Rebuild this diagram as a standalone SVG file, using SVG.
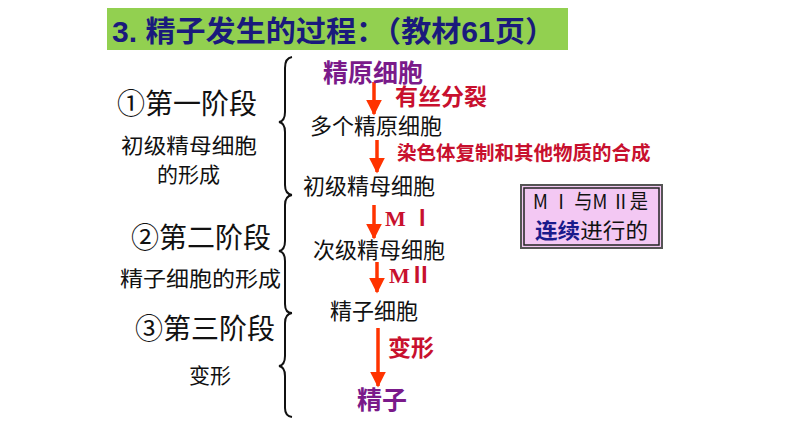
<svg xmlns="http://www.w3.org/2000/svg" width="794" height="447" viewBox="0 0 794 447">
<style>
.lbl{font-family:"Noto Sans CJK SC",sans-serif;fill:#111;}
.big{font-size:28px;}
.mid{font-size:21px;}
.cell{font-family:"Noto Sans CJK SC",sans-serif;font-size:22px;fill:#111;}
.pur{font-family:"Noto Sans CJK SC",sans-serif;font-weight:bold;fill:#7a1a8a;font-size:25px;}
.red{font-family:"Noto Sans CJK SC",sans-serif;font-weight:bold;fill:#c8102e;}
.mr{font-family:"Liberation Serif","Noto Sans CJK SC",serif;font-weight:bold;fill:#c8102e;font-size:22px;}
.arr{stroke:#ff3300;stroke-width:3.5;fill:none;}
.brace{stroke:#111;stroke-width:2;fill:none;}
</style>
<defs>
<marker id="ah" viewBox="0 0 10 10" refX="9" refY="5" markerWidth="4.5" markerHeight="4.5" orient="auto" markerUnits="strokeWidth">
<path d="M0,0 L10,5 L0,10 z" fill="#ff3300"/>
</marker>
</defs>
<rect width="794" height="447" fill="#fff"/>
<g id="title">
<rect x="107" y="8" width="461" height="42" fill="#92d050"/>
<text x="112" y="42" font-family="Liberation Sans,Noto Sans CJK SC,sans-serif" font-weight="bold" font-size="29" fill="#1a1a7c" textLength="443" lengthAdjust="spacingAndGlyphs">3. 精子发生的过程：（教材61页）</text>
</g>
<g id="braces">
<path class="brace" d="M292,57 Q285,58 285,68 L285,112 Q285,121 279,122 Q285,123 285,132 L285,185 Q285,194 292,195"/>
<path class="brace" d="M292,195 Q285,196 285,205 L285,241 Q285,250 279,251 Q285,252 285,261 L285,304 Q285,313 292,313"/>
<path class="brace" d="M292,313 Q285,314 285,323 L285,356 Q285,365 279,366 Q285,367 285,376 L285,408 Q285,416 292,417"/>
</g>
<g id="left-labels">
<text class="lbl big" x="117" y="114">①第一阶段</text>
<text class="lbl mid" x="121" y="153" textLength="136" lengthAdjust="spacingAndGlyphs">初级精母细胞</text>
<text class="lbl mid" x="157" y="182">的形成</text>
<text class="lbl big" x="131" y="248">②第二阶段</text>
<text class="lbl mid" x="120" y="286" textLength="161" lengthAdjust="spacingAndGlyphs">精子细胞的形成</text>
<text class="lbl big" x="135" y="339">③第三阶段</text>
<text class="lbl mid" x="189" y="383">变形</text>
</g>
<g id="connectors">
<line class="arr" x1="374" y1="82" x2="374" y2="114" marker-end="url(#ah)"/>
<line class="arr" x1="377" y1="140" x2="377" y2="172" marker-end="url(#ah)"/>
<line class="arr" x1="374" y1="205" x2="374" y2="238" marker-end="url(#ah)"/>
<line class="arr" x1="377" y1="262" x2="377" y2="292" marker-end="url(#ah)"/>
<line class="arr" x1="378" y1="328" x2="378" y2="386" marker-end="url(#ah)"/>
</g>
<g id="n1"><text class="pur" font-size="26" x="323" y="82">精原细胞</text></g>
<g id="l1"><text class="red" font-size="23" x="395" y="105">有丝分裂</text></g>
<g id="n2"><text class="cell" x="310" y="134">多个精原细胞</text></g>
<g id="l2"><text class="red" font-size="19.5" x="397" y="160">染色体复制和其他物质的合成</text></g>
<g id="n3"><text class="cell" x="303" y="194">初级精母细胞</text></g>
<g id="l3"><text class="mr" x="385" y="226">M Ⅰ</text></g>
<g id="n4"><text class="cell" x="313" y="258">次级精母细胞</text></g>
<g id="l4"><text class="mr" x="389" y="283">MⅡ</text></g>
<g id="n5"><text class="cell" x="330" y="319">精子细胞</text></g>
<g id="l5"><text class="red" font-size="23" x="388" y="356">变形</text></g>
<g id="n6"><text class="pur" x="357" y="409">精子</text></g>
<g id="note">
<rect x="521" y="185" width="141" height="63" fill="#f3c8f3" stroke="#555" stroke-width="2"/>
<rect x="524" y="188" width="135" height="57" fill="none" stroke="#222" stroke-width="1.5"/>
<text x="533" y="209" font-family="Noto Sans CJK SC,sans-serif" font-size="20" fill="#111" textLength="115" lengthAdjust="spacingAndGlyphs">M Ⅰ 与M Ⅱ是</text>
<text x="535" y="238" font-family="Noto Sans CJK SC,sans-serif" font-size="21" fill="#111" textLength="113" lengthAdjust="spacingAndGlyphs"><tspan font-weight="bold" fill="#1a1a8c">连续</tspan>进行的</text>
</g>
</svg>
